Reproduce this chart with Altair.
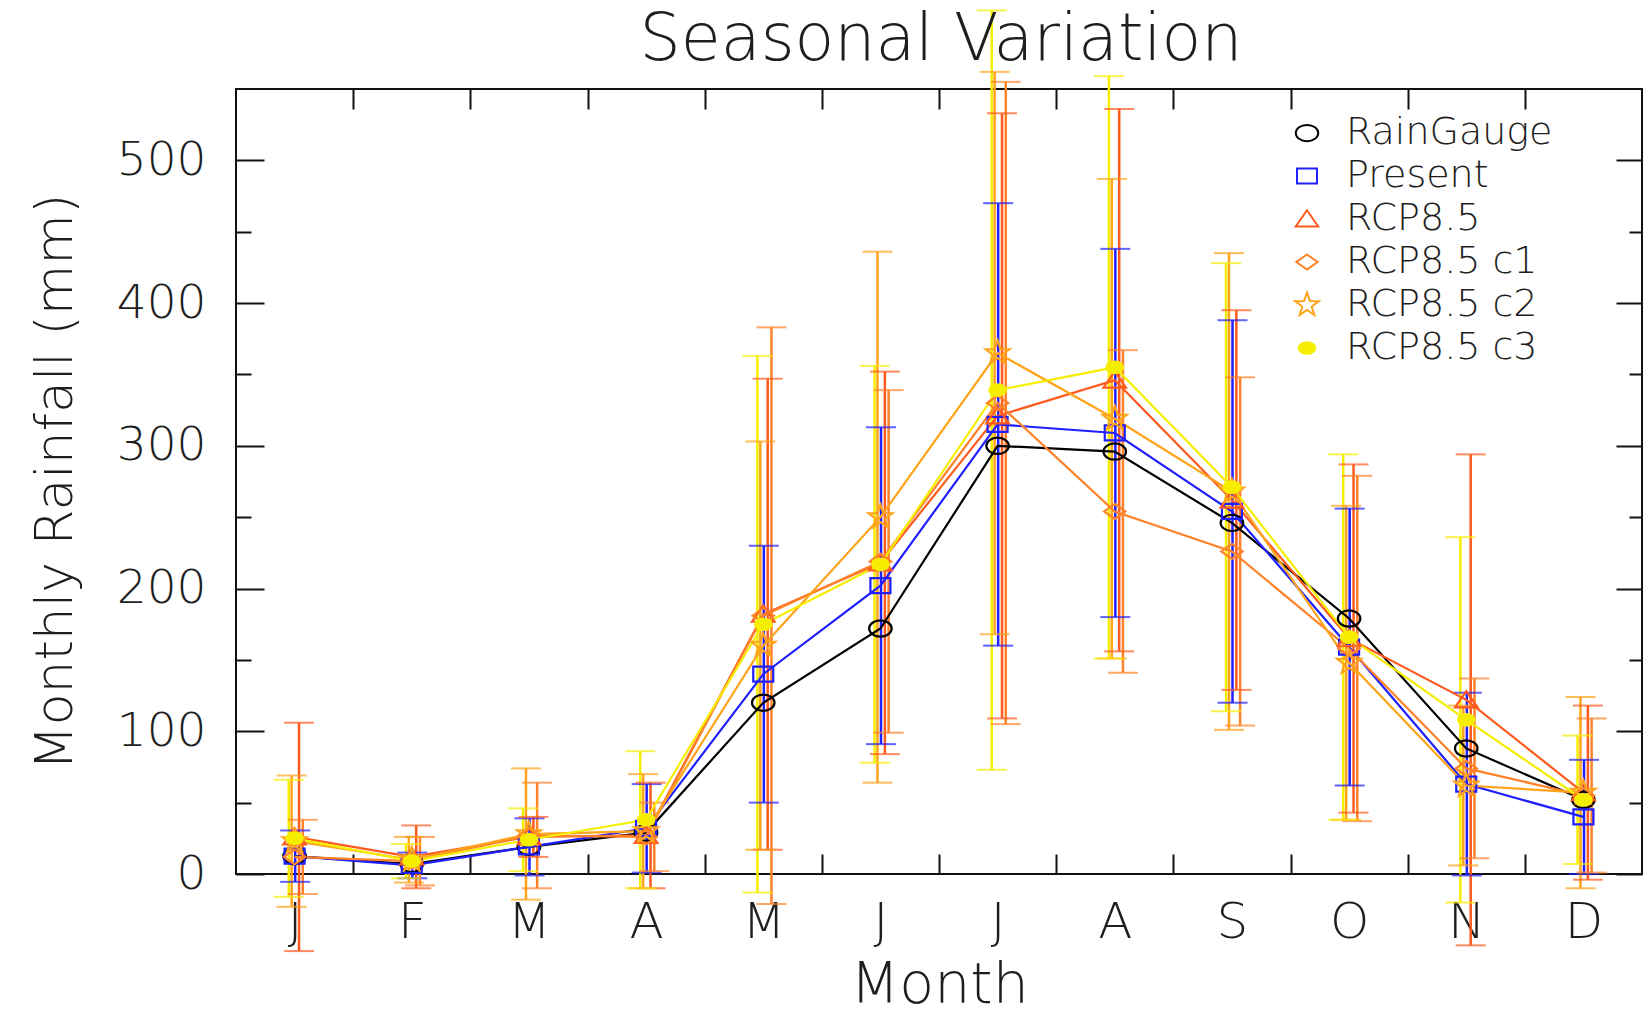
import json
import altair as alt
import pandas as pd

# ---------------- data ----------------
title_text = "Seasonal Variation"
months = ["J", "F", "M", "A", "M", "J", "J", "A", "S", "O", "N", "D"]
series = ["RainGauge", "Present", "RCP8.5", "RCP8.5 c1", "RCP8.5 c2", "RCP8.5 c3"]

rain_gauge = [12.5, 7, 19, 29, 120, 172, 300, 296, 246, 179, 88, 52]
present = [12.5, 6, 19, 32, 140, 202, 315, 309, 254, 159, 63, 40]
rcp85 = [26, 12, 26, 27, 182, 218, 321, 346, 262, 165, 122, 57]
rcp85_c1 = [12, 9, 27, 26, 181, 219, 330, 254, 226, 158, 74, 55]
rcp85_c2 = [23, 10, 28, 30, 160, 250, 365, 319, 268, 148, 62, 57]
rcp85_c3 = [25, 9, 24, 38, 175, 217, 339, 355, 271, 166, 108, 52]

present_sd = [18, 9, 20, 31, 90, 111, 155, 129, 134, 97, 64, 40]
rcp85_sd = [80, 22, 14, 37, 165, 134, 212, 190, 133, 122, 172, 61]
rcp85_c1_sd = [26, 17, 37, 24, 202, 120, 225, 113, 122, 121, 63, 54]
rcp85_c2_sd = [46, 16, 46, 40, 143, 186, 197, 168, 167, 110, 56, 67]
rcp85_c3_sd = [41, 12, 22, 48, 188, 139, 266, 204, 157, 128, 128, 45]

y_tick_major = [0, 100, 200, 300, 400, 500]
y_tick_minor = [50, 150, 250, 350, 450]
x_boundaries = [1.5, 2.5, 3.5, 4.5, 5.5, 6.5, 7.5, 8.5, 9.5, 10.5, 11.5]

# ---------------- styles ----------------
colors = ["#000000", "#1f1fff", "#ff5a1e", "#ff8228", "#ffa31a", "#f5ee00"]
fills = ["transparent", "transparent", "transparent", "transparent", "transparent", "#f5ee00"]
shapes = [
    "M-0.9,0C-0.9,-0.359,-0.497,-0.65,0,-0.65C0.497,-0.65,0.9,-0.359,0.9,0C0.9,0.359,0.497,0.65,0,0.65C-0.497,0.65,-0.9,0.359,-0.9,0Z",
    "M-0.8,-0.6L0.8,-0.6L0.8,0.6L-0.8,0.6Z",
    "M0,-0.7L0.9,0.6L-0.9,0.6Z",
    "M0,-0.6L0.85,0L0,0.6L-0.85,0Z",
    "M0,-1L0.235,-0.324L0.951,-0.309L0.38,0.124L0.588,0.809L0,0.4L-0.588,0.809L-0.38,0.124L-0.951,-0.309L-0.235,-0.324Z",
    "M-0.66,0C-0.66,-0.254,-0.365,-0.46,0,-0.46C0.365,-0.46,0.66,-0.254,0.66,0C0.66,0.254,0.365,0.46,0,0.46C-0.365,0.46,-0.66,0.254,-0.66,0Z",
]
bar_shift = {"Present": 0.005, "RCP8.5": 0.038, "RCP8.5 c1": 0.07,
             "RCP8.5 c2": -0.025, "RCP8.5 c3": -0.05}

FONT = "DejaVu Sans"
TXT = "#1e1e1e"
W, H = 1406, 785

# ---------------- tables ----------------
means = [rain_gauge, present, rcp85, rcp85_c1, rcp85_c2, rcp85_c3]
sds = {"Present": present_sd, "RCP8.5": rcp85_sd, "RCP8.5 c1": rcp85_c1_sd,
       "RCP8.5 c2": rcp85_c2_sd, "RCP8.5 c3": rcp85_c3_sd}

pts = []
for s, vals in zip(series, means):
    for i, v in enumerate(vals):
        pts.append({"m": i + 1, "series": s, "value": v})
df_pts = pd.DataFrame(pts)

err = []
for s, vals in zip(series, means):
    if s not in sds:
        continue
    for i, v in enumerate(vals):
        sd = sds[s][i]
        err.append({"xo": i + 1 + bar_shift[s], "series": s,
                    "lo": v - sd, "hi": v + sd})
df_err = pd.DataFrame(err)

# ---------------- scales / axes ----------------
xscale = alt.Scale(domain=[0.5, 12.5], nice=False, zero=False)
yscale = alt.Scale(domain=[0, 550], nice=False, zero=False)
# error bars exist only for the model series
err_scale = alt.Scale(domain=series[1:], range=colors[1:])
stroke_scale = alt.Scale(domain=series, range=colors)


def tick_axis(orient, values, size):
    return alt.Axis(orient=orient, values=values, tickSize=size, offset=-size,
                    labels=False, domain=False, grid=False, title=None,
                    ticks=True, tickColor="#111111", tickWidth=2)


label_x_axis = alt.Axis(
    orient="bottom", values=list(range(1, 13)),
    labelExpr=json.dumps(months) + "[datum.value - 1]",
    ticks=False, tickSize=0, domain=False, grid=False,
    labelFont=FONT, labelFontSize=50, labelFontWeight=200, labelColor=TXT,
    labelPadding=23, labelFlush=False, labelOverlap=False,
    title="Month", titleFont=FONT, titleFontSize=57, titleFontWeight=200,
    titleColor=TXT, titlePadding=10,
)
label_y_axis = alt.Axis(
    orient="left", values=y_tick_major, format="d",
    ticks=False, tickSize=0, domain=False, grid=False,
    labelFont=FONT, labelFontSize=47, labelFontWeight=200, labelColor=TXT,
    labelPadding=30, labelFlush=False, labelOverlap=False,
    title="Monthly Rainfall (mm)", titleFont=FONT, titleFontSize=52,
    titleFontWeight=200, titleColor=TXT, titlePadding=34,
)

legend = alt.Legend(
    orient="none", legendX=1052, legendY=25, title=None,
    labelFont=FONT, labelFontSize=38, labelFontWeight=200, labelColor=TXT,
    labelLimit=600, labelOffset=20, symbolSize=625, symbolStrokeWidth=2,
    rowPadding=5, padding=0,
)

# ---------------- layers ----------------
rules = alt.Chart(df_err).mark_rule(strokeWidth=2.5).encode(
    x=alt.X("xo:Q", scale=xscale, axis=label_x_axis),
    y=alt.Y("lo:Q", scale=yscale, axis=label_y_axis),
    y2="hi:Q",
    color=alt.Color("series:N", scale=err_scale, legend=None),
)

caps_hi = alt.Chart(df_err).mark_tick(orient="horizontal", size=30, thickness=2).encode(
    x=alt.X("xo:Q", scale=xscale, axis=tick_axis("bottom", x_boundaries, 20)),
    y=alt.Y("hi:Q", scale=yscale, axis=tick_axis("left", y_tick_major, 28)),
    color=alt.Color("series:N", scale=err_scale, legend=None),
)

caps_lo = alt.Chart(df_err).mark_tick(orient="horizontal", size=30, thickness=2).encode(
    x=alt.X("xo:Q", scale=xscale, axis=tick_axis("top", x_boundaries, 20)),
    y=alt.Y("lo:Q", scale=yscale, axis=tick_axis("left", y_tick_minor, 15)),
    color=alt.Color("series:N", scale=err_scale, legend=None),
)

lines = alt.Chart(df_pts).mark_line(strokeWidth=2.2).encode(
    x=alt.X("m:Q", scale=xscale, axis=None),
    y=alt.Y("value:Q", scale=yscale, axis=tick_axis("right", y_tick_major, 26)),
    stroke=alt.Stroke("series:N", scale=stroke_scale, legend=legend),
)

points = alt.Chart(df_pts).mark_point(size=625, strokeWidth=2.2, opacity=1).encode(
    x=alt.X("m:Q", scale=xscale, axis=None),
    y=alt.Y("value:Q", scale=yscale, axis=tick_axis("right", y_tick_minor, 13)),
    stroke=alt.Stroke("series:N", scale=stroke_scale, legend=legend),
    fill=alt.Fill("series:N", scale=alt.Scale(domain=series, range=fills), legend=legend),
    shape=alt.Shape("series:N", scale=alt.Scale(domain=series, range=shapes), legend=legend),
)

title = alt.Chart(pd.DataFrame({"label": [title_text]})).mark_text(
    font=FONT, fontSize=65, fontWeight=200, color=TXT,
    align="center", baseline="alphabetic",
).encode(
    text="label:N",
    x=alt.value(W / 2 + 2),
    y=alt.value(-29),
)

chart = (
    alt.layer(rules, caps_hi, caps_lo, lines, points, title)
    .resolve_axis(x="independent", y="independent")
    .properties(
        width=W, height=H,
        autosize=alt.AutoSizeParams(type="none"),
        padding={"left": 236, "top": 89, "right": 5, "bottom": 140},
    )
    .configure_view(stroke="#111111", strokeWidth=2)
)

chart.save("out.html", embed_options={"renderer": "svg", "actions": False})
